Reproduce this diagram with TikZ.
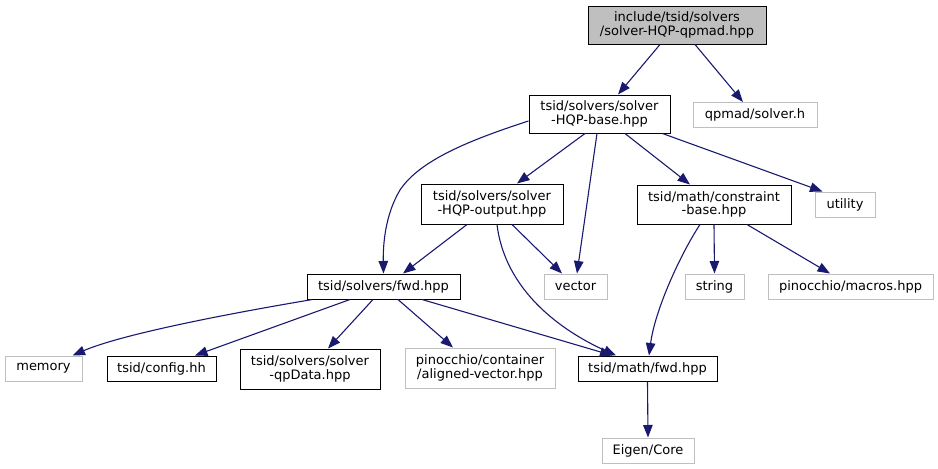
\documentclass[tikz,border=0pt]{standalone}
\usepackage{fontspec}
\setmainfont{DejaVu Sans}
\usetikzlibrary{arrows.meta}
\definecolor{edgeblue}{HTML}{191970}
\definecolor{lgray}{HTML}{BFBFBF}
\tikzset{
  box/.style={draw=black, line width=1pt, inner sep=0pt, align=center, font=\fontsize{13}{13.7}\selectfont},
  blk/.style={box, fill=white},
  top/.style={box, fill=lgray},
  gry/.style={box, draw=lgray, fill=white},
  edge/.style={draw=edgeblue, line width=1.1pt, -{Triangle[length=12.5pt,width=9.5pt]}},
}
\begin{document}
\begin{tikzpicture}[x=1pt,y=-1pt]
\useasboundingbox (0,0) rectangle (938,469);
\node[top, minimum width=178pt, minimum height=38pt] (qpmad) at (677,25) {include/tsid/solvers\\/solver-HQP-qpmad.hpp};
\node[blk, minimum width=141pt, minimum height=38pt] (base) at (599.5,114) {tsid/solvers/solver\\-HQP-base.hpp};
\node[gry, minimum width=124pt, minimum height=25pt] (solverh) at (755,115) {qpmad/solver.h};
\node[gry, minimum width=60pt, minimum height=25pt] (utility) at (845,204.5) {utility};
\node[blk, minimum width=154pt, minimum height=39pt] (constraint) at (714,204.5) {tsid/math/constraint\\-base.hpp};
\node[gry, minimum width=59pt, minimum height=25pt] (string) at (714.5,286.5) {string};
\node[gry, minimum width=165pt, minimum height=25pt] (macros) at (850.5,286.5) {pinocchio/macros.hpp};
\node[blk, minimum width=142pt, minimum height=40pt] (output) at (492,204) {tsid/solvers/solver\\-HQP-output.hpp};
\node[blk, minimum width=153pt, minimum height=25pt] (sfwd) at (383.5,286.5) {tsid/solvers/fwd.hpp};
\node[gry, minimum width=63pt, minimum height=25pt] (vector) at (575.5,286.5) {vector};
\node[gry, minimum width=77pt, minimum height=25pt] (memory) at (43.5,368.5) {memory};
\node[blk, minimum width=109pt, minimum height=25pt] (config) at (161.5,368.5) {tsid/config.hh};
\node[blk, minimum width=140pt, minimum height=40pt] (qpdata) at (310,369) {tsid/solvers/solver\\-qpData.hpp};
\node[gry, minimum width=150pt, minimum height=40pt] (aligned) at (480,368) {pinocchio/container\\/aligned-vector.hpp};
\node[blk, minimum width=139pt, minimum height=25pt] (mfwd) at (647.5,368.5) {tsid/math/fwd.hpp};
\node[gry, minimum width=92pt, minimum height=25pt] (eigen) at (648,450.5) {Eigen/Core};

% edges
\draw[edge] ([xshift=-17pt]qpmad.south) -- ([xshift=18.5pt]base.north);
\draw[edge] ([xshift=18pt]qpmad.south) -- ([xshift=-12pt]solverh.north);
\draw[edge] ([yshift=-7pt]base.west) .. controls (470,140) and (420,160) .. (400,190) .. controls (385,215) and (383,245) .. (sfwd.north);
\draw[edge] ([xshift=-14.5pt]base.south) -- ([xshift=25pt]output.north);
\draw[edge] ([xshift=-2.5pt]base.south) -- ([xshift=1.5pt]vector.north);
\draw[edge] ([xshift=25.5pt]base.south) -- ([xshift=-24pt]constraint.north);
\draw[edge] ([xshift=-8pt]base.south east) -- ([xshift=8pt]utility.north west);
\draw[edge] ([xshift=-25pt]output.south) -- ([xshift=19.5pt]sfwd.north);
\draw[edge] ([xshift=20pt]output.south) -- ([xshift=-13.5pt]vector.north);
\draw[edge] ([xshift=5pt]output.south) .. controls (505,290) and (560,330) .. ([xshift=-31.5pt]mfwd.north);
\draw[edge] ([xshift=-14pt]constraint.south) .. controls (680,255) and (655,310) .. ([xshift=1.5pt]mfwd.north);
\draw[edge] (constraint.south) -- (string.north);
\draw[edge] ([xshift=33pt]constraint.south) -- ([xshift=-20.5pt]macros.north);
\draw[edge] ([xshift=6pt]sfwd.south west) .. controls (220,315) and (120,335) .. ([xshift=29pt]memory.north);
\draw[edge] ([xshift=-33.5pt]sfwd.south) -- ([xshift=33.5pt]config.north);
\draw[edge] ([xshift=-10.5pt]sfwd.south) -- ([xshift=18pt]qpdata.north);
\draw[edge] ([xshift=14.5pt]sfwd.south) -- ([xshift=-27pt]aligned.north);
\draw[edge] ([xshift=38.5pt]sfwd.south) -- ([xshift=-35pt]mfwd.north);
\draw[edge] (mfwd.south) -- (eigen.north);
\end{tikzpicture}
\end{document}
